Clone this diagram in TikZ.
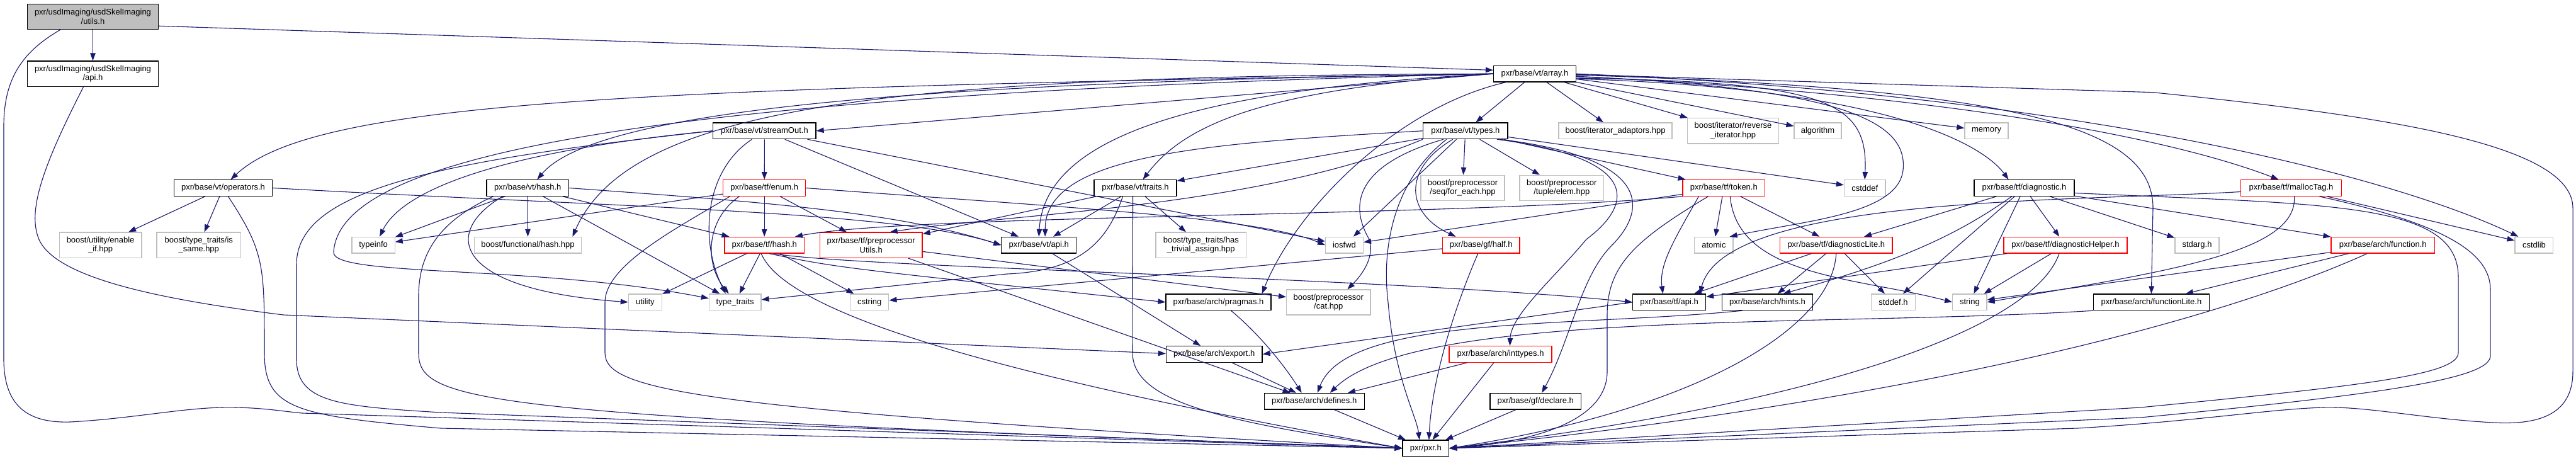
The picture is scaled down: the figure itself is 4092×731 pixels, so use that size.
\documentclass[tikz,border=0pt]{standalone}
\usepackage{fontspec}
\setmainfont{Liberation Sans}
\usetikzlibrary{arrows.meta}
\definecolor{edgeblue}{HTML}{191970}
\definecolor{extgray}{HTML}{BFBFBF}
\definecolor{trunc}{HTML}{FF0000}
\definecolor{curgray}{HTML}{BFBFBF}
\begin{document}
\begin{tikzpicture}[x=1pt,y=-1pt,
  nb/.style={rectangle, inner sep=0pt, align=center, font=\fontsize{13pt}{14.5pt}\selectfont, line width=1.2pt, fill=white},
  doc/.style={nb, draw=black},
  ext/.style={nb, draw=extgray},
  trn/.style={nb, draw=trunc},
  cur/.style={nb, draw=black, fill=curgray},
  bx/.style 2 args={minimum width=#1pt, minimum height=#2pt},
  e/.style={draw=edgeblue, line width=1.1pt, -{Triangle[length=12pt,width=8.5pt]}}]
\fill[white] (0,0) rectangle (4092,731);
\useasboundingbox (0,0) rectangle (4092,731);
% ---------- nodes ----------
\node[cur, bx={208.5}{40.4}] (utils) at (147.5,26.5) {pxr/usdImaging/usdSkelImaging\\/utils.h};
\node[doc, bx={208.5}{40.4}] (skelapi) at (147.5,117.2) {pxr/usdImaging/usdSkelImaging\\/api.h};
\node[doc, bx={130.8}{25.7}] (array) at (2438,117.2) {pxr/base/vt/array.h};
% row C
\node[doc, bx={163.3}{25.7}] (streamOut) at (1214.4,207.8) {pxr/base/vt/streamOut.h};
\node[doc, bx={134.5}{25.7}] (types) at (2327.8,207.8) {pxr/base/vt/types.h};
\node[ext, bx={180}{25.7}] (iteradapt) at (2566,207.8) {boost/iterator\_adaptors.hpp};
\node[ext, bx={144.8}{40.3}] (reviter) at (2753,207.8) {boost/iterator/reverse\\\_iterator.hpp};
\node[ext, bx={75}{25.7}] (algorithm) at (2887.5,207.8) {algorithm};
\node[ext, bx={69}{25.7}] (memory) at (3155.5,207.8) {memory};
% row D
\node[doc, bx={156.3}{25.7}] (operators) at (354.5,298.5) {pxr/base/vt/operators.h};
\node[doc, bx={130.8}{25.7}] (vthash) at (838.3,298.5) {pxr/base/vt/hash.h};
\node[trn, bx={130.7}{25.7}] (enum) at (1214.2,298.5) {pxr/base/tf/enum.h};
\node[doc, bx={131}{25.7}] (traits) at (1803.5,298.5) {pxr/base/vt/traits.h};
\node[ext, bx={133}{40}] (foreach) at (2323.5,298.3) {boost/preprocessor\\/seq/for\_each.hpp};
\node[ext, bx={133.6}{40}] (elem) at (2480.8,298.3) {boost/preprocessor\\/tuple/elem.hpp};
\node[trn, bx={130.5}{25.7}] (token) at (2738.3,298.5) {pxr/base/tf/token.h};
\node[ext, bx={65.6}{25.7}] (cstddef) at (2962.2,298.5) {cstddef};
\node[doc, bx={159}{25.7}] (diagnostic) at (3215.5,298.5) {pxr/base/tf/diagnostic.h};
\node[trn, bx={160.2}{25.7}] (mallocTag) at (3639.5,298.5) {pxr/base/tf/mallocTag.h};
% row E
\node[ext, bx={130.8}{40.3}] (enableif) at (159.6,389.2) {boost/utility/enable\\\_if.hpp};
\node[ext, bx={133.6}{40.3}] (issame) at (315.8,389.2) {boost/type\_traits/is\\\_same.hpp};
\node[ext, bx={68.2}{25.7}] (typeinfo) at (593.1,389.2) {typeinfo};
\node[ext, bx={170.6}{25.7}] (funchash) at (838.5,389.2) {boost/functional/hash.hpp};
\node[trn, bx={126.3}{25.7}] (tfhash) at (1214.2,389.2) {pxr/base/tf/hash.h};
\node[trn, bx={162.7}{40.3}] (prepUtils) at (1383.7,389.2) {pxr/base/tf/preprocessor\\Utils.h};
\node[doc, bx={118.7}{25.7}] (vtapi) at (1650.2,389.2) {pxr/base/vt/api.h};
\node[ext, bx={143.6}{40.3}] (hastrivial) at (1907.8,389.2) {boost/type\_traits/has\\\_trivial\_assign.hpp};
\node[ext, bx={59.8}{25.7}] (iosfwd) at (2135.5,389.2) {iosfwd};
\node[trn, bx={122.7}{25.7}] (half) at (2352.7,389.2) {pxr/base/gf/half.h};
\node[ext, bx={61.2}{25.7}] (atomic) at (2722.4,389.2) {atomic};
\node[trn, bx={178.4}{25.7}] (diagLite) at (2916.8,389.2) {pxr/base/tf/diagnosticLite.h};
\node[ext, bx={70}{25.7}] (stdarg) at (3490,389.2) {stdarg.h};
\node[trn, bx={196}{25.7}] (diagHelper) at (3281,389.2) {pxr/base/tf/diagnosticHelper.h};
\node[trn, bx={164.4}{25.7}] (function) at (3785.2,389.2) {pxr/base/arch/function.h};
\node[ext, bx={60.8}{25.7}] (cstdlib) at (4025.4,389.2) {cstdlib};
% row F
\node[ext, bx={53.1}{25.7}] (utility) at (1024.9,479.8) {utility};
\node[ext, bx={82.6}{25.7}] (typetraits) at (1167.7,479.8) {type\_traits};
\node[ext, bx={61.3}{25.7}] (cstring) at (1381.2,479.8) {cstring};
\node[doc, bx={167}{25.7}] (pragmas) at (1935.5,479.8) {pxr/base/arch/pragmas.h};
\node[ext, bx={133.4}{40}] (cat) at (2110.3,480) {boost/preprocessor\\/cat.hpp};
\node[doc, bx={116}{25.7}] (tfapi) at (2651.6,479.8) {pxr/base/tf/api.h};
\node[doc, bx={143.8}{25.7}] (hints) at (2807.5,479.8) {pxr/base/arch/hints.h};
\node[ext, bx={69.6}{25.7}] (stddef) at (3007.5,479.8) {stddef.h};
\node[ext, bx={54.3}{25.7}] (string) at (3128.9,479.8) {string};
\node[doc, bx={184}{25.7}] (functionLite) at (3417.4,479.8) {pxr/base/arch/functionLite.h};
% rows G, H, I
\node[doc, bx={152.6}{25.7}] (export) at (1928.7,562.5) {pxr/base/arch/export.h};
\node[trn, bx={163}{25.7}] (inttypes) at (2383.5,562.5) {pxr/base/arch/inttypes.h};
\node[doc, bx={159}{25.7}] (defines) at (2087.7,637.2) {pxr/base/arch/defines.h};
\node[doc, bx={144.4}{25.7}] (declare) at (2439.2,637.2) {pxr/base/gf/declare.h};
\node[doc, bx={73.6}{25.7}] (pxr) at (2264.8,711.8) {pxr/pxr.h};
% ---------- edges ----------
% utils
\draw[e] (utils) -- (skelapi);
\draw[e] (utils.-8) -- (array.175);
\draw[e] ([xshift=53pt]utils.south west) .. controls (40,80) and (6,120) .. (6,200) -- (6,570) .. controls (6,650) and (50,672) .. (112,670) .. controls (220,664) and (300,645) .. (375,647) .. controls (420,648) and (440,652) .. (480,656) -- (pxr.west);
% skelapi
\draw[e] ([xshift=-15pt]skelapi.south) .. controls (70,260) and (45,330) .. (60,375) .. controls (80,440) and (250,475) .. (450,500) -- ([yshift=1pt]export.west);
% array
\draw[e] (array) -- (types);
\draw[e] (array) -- (iteradapt);
\draw[e] (array) -- (reviter);
\draw[e] (array) -- (algorithm);
\draw[e] (array) -- (memory);
\draw[e] (array.west) -- (streamOut.east);
\draw[e] (array.west) .. controls (1000,140) and (500,160) .. ([xshift=12pt]operators.north);
\draw[e] (array.west) .. controls (1500,130) and (950,170) .. ([xshift=15pt]vthash.north);
\draw[e] (array.west) .. controls (1400,120) and (1000,170) .. ([xshift=-15pt]funchash.north east);
\draw[e] (array.west) .. controls (1000,150) and (540,250) .. (530,400) .. controls (525,440) and (850,420) .. ([yshift=6pt]typetraits.west);
\draw[e] (array.west) .. controls (1900,142) and (1660,216) .. (vtapi.north);
\draw[e] (array.west) .. controls (2000,142) and (1880,200) .. ([xshift=12pt]traits.north);
\draw[e] ([xshift=20pt]array.south west) .. controls (2220,170) and (2060,330) .. ([xshift=-15pt]pragmas.north east);
\draw[e] (array.-6) .. controls (2900,130) and (2968,160) .. (cstddef.north);
\draw[e] (array.-4) .. controls (2950,140) and (3030,200) .. (3023,270) .. controls (3015,340) and (2870,350) .. ([xshift=-6pt]atomic.north east);
\draw[e] ([yshift=-8pt]array.east) .. controls (3000,140) and (3150,230) .. ([xshift=-25pt]diagnostic.north);
\draw[e] ([yshift=-4pt]array.east) .. controls (3100,150) and (3450,220) .. ([xshift=-20pt]mallocTag.north);
\draw[e] (array.east) .. controls (3300,150) and (3800,280) .. ([xshift=6pt]cstdlib.north west);
\draw[e] ([yshift=-2pt]array.east) .. controls (3200,140) and (3420,200) .. (3420,330) -- (functionLite.north);
\draw[e] ([yshift=-1pt]array.east) -- (3420,146.7) .. controls (3800,185) and (4086,230) .. (4087,330) -- (4087,590) .. controls (4087,660) and (4030,675) .. (3960,671) .. controls (3850,665) and (3760,645) .. (3690,647) .. controls (3600,650) and (3500,668) .. (3300,680) -- (pxr.east);
% operators
\draw[e] (operators) -- (enableif);
\draw[e] (operators) -- (issame);
\draw[e] (operators.east) .. controls (1000,330) and (1420,335) .. (vtapi.west);
\draw[e] ([xshift=8pt]operators.south) .. controls (420,400) and (420,420) .. (420,560) .. controls (420,650) and (470,660) .. (700,680) -- (pxr.west);
% streamOut
\draw[e] (streamOut) -- (enum);
\draw[e] (streamOut.west) .. controls (800,240) and (640,300) .. ([xshift=10pt]typeinfo.north);
\draw[e] (streamOut) -- (vtapi);
\draw[e] (streamOut) -- (iosfwd);
\draw[e] ([xshift=-20pt]streamOut.south) .. controls (1120,270) and (1110,380) .. ([xshift=-15pt]typetraits.north);
\draw[e] (streamOut.west) .. controls (700,255) and (471,300) .. (471,420) -- (471,570) .. controls (471,640) and (540,645) .. (700,655) -- (pxr.west);
% vt/hash
\draw[e] (vthash) -- (funchash);
\draw[e] (vthash) -- (tfhash);
\draw[e] (vthash) -- (typeinfo);
\draw[e] (vthash) -- (typetraits);
\draw[e] (vthash.east) .. controls (1200,320) and (1420,335) .. (vtapi.west);
\draw[e] ([xshift=-40pt]vthash.south) .. controls (700,370) and (720,460) .. (utility.west);
\draw[e] ([xshift=-55pt]vthash.south) .. controls (700,350) and (665,400) .. (665,470) -- (665,560) .. controls (665,640) and (760,660) .. (pxr.west);
% tf/enum
\draw[e] (enum) -- (tfhash);
\draw[e] (enum) -- (prepUtils);
\draw[e] (enum) -- (typeinfo);
\draw[e] ([xshift=-40pt]enum.south) .. controls (1120,350) and (1120,420) .. ([xshift=-10pt]typetraits.north);
\draw[e] (enum.east) .. controls (1700,330) and (2000,345) .. (iosfwd.west);
\draw[e] ([xshift=-55pt]enum.south) .. controls (1080,360) and (961,420) .. (961,480) -- (961,560) .. controls (961,620) and (1100,650) .. (pxr.west);
% tf/hash
\draw[e] (tfhash) -- (utility);
\draw[e] (tfhash) -- (typetraits);
\draw[e] (tfhash) -- (cstring);
\draw[e] (tfhash.-60) .. controls (1330,425) .. (pragmas.west);
\draw[e] (tfhash.-40) .. controls (1350,425) and (2200,440) .. (tfapi.west);
\draw[e] ([xshift=-5pt]tfhash.south) .. controls (1250,500) and (1600,600) .. (pxr.west);
% preprocessorUtils
\draw[e] (prepUtils) -- (cat);
\draw[e] (prepUtils) -- (defines);
% vt/types
\draw[e] (types) -- (foreach);
\draw[e] (types) -- (elem);
\draw[e] (types) -- (token);
\draw[e] (types) -- (cstddef);
\draw[e] (types) -- (traits);
\draw[e] (types) -- (iosfwd);
\draw[e] (types.west) .. controls +(-350,20) and +(0,-130) .. ([xshift=10pt]vtapi.north);
\draw[e] (types.south west) .. controls (2000,330) and (1600,340) .. ([xshift=30pt]prepUtils.north);
\draw[e] ([xshift=-30pt]types.south) .. controls (2210,290) and (2195,400) .. (2205,480) .. controls (2215,600) and (2250,660) .. ([xshift=-10pt]pxr.north);
\draw[e] ([xshift=-20pt]types.south) .. controls (2225,270) and (2235,340) .. ([xshift=-40pt]half.north);
\draw[e] ([xshift=-35pt]types.south) .. controls (2160,260) and (2140,320) .. (2175,380) .. controls (2185,410) and (2160,440) .. ([xshift=30pt]cat.north);
\draw[e] ([xshift=50pt]types.south) .. controls (2600,250) and (2600,320) .. (2520,380) .. controls (2470,440) and (2400,500) .. ([xshift=15pt]inttypes.north);
\draw[e] ([xshift=55pt]types.south) .. controls (2620,250) and (2620,330) .. (2560,390) .. controls (2510,440) and (2495,540) .. ([xshift=10pt]declare.north);
% vt/traits
\draw[e] (traits) -- (vtapi);
\draw[e] (traits) -- (prepUtils);
\draw[e] (traits) -- (hastrivial);
\draw[e] ([xshift=-20pt]traits.south) .. controls (1760,380) and (1720,430) .. (1600,435) -- ([yshift=4pt]typetraits.east);
\draw[e] ([xshift=-4pt]traits.south) -- (1799,560) .. controls (1799,640) and (1950,670) .. (pxr.west);
% arch chain
\draw[e] (vtapi) -- (export);
\draw[e] (export) -- (defines);
\draw[e] ([xshift=20pt]pragmas.south) .. controls (2000,530) and (2040,580) .. ([xshift=-20pt]defines.north);
\draw[e] (defines) -- (pxr);
\draw[e] (inttypes) -- (defines);
\draw[e] (inttypes) -- (pxr);
\draw[e] (declare) -- (pxr);
\draw[e] (tfapi.west) -- (export.east);
\draw[e] (half) -- (cstring);
\draw[e] ([xshift=-5pt]half.south) .. controls (2310,490) and (2275,600) .. ([xshift=5pt]pxr.north);
\draw[e] ([xshift=-40pt]hints.south) .. controls (2500,520) and (2140,500) .. ([xshift=5pt]defines.north);
\draw[e] (functionLite.south west) .. controls (2900,520) and (2250,490) .. ([xshift=25pt]defines.north);
% tf/token
\draw[e] (token) -- (diagLite);
\draw[e] (token) -- (atomic);
\draw[e] (token) -- (iosfwd);
\draw[e] ([xshift=-40pt]token.south) .. controls (2660,380) and (2635,420) .. ([xshift=-10pt]tfapi.north);
\draw[e] (token.south west) .. controls (2300,345) and (1450,340) .. ([xshift=-15pt]tfhash.north east);
\draw[e] ([xshift=10pt]token.south) .. controls (2760,440) and (2950,440) .. (string.west);
\draw[e] ([xshift=-25pt]token.south) .. controls (2600,380) and (2553,420) .. (2553,500) -- (2553,590) .. controls (2553,680) and (2400,705) .. (pxr.east);
% diagnosticLite
\draw[e] (diagLite) -- (tfapi);
\draw[e] (diagLite) -- (hints);
\draw[e] (diagLite) -- (stddef);
\draw[e] (diagLite.south) .. controls (2910,520) and (2700,650) .. (pxr.east);
% diagnosticHelper
\draw[e] (diagHelper) -- (tfapi);
\draw[e] (diagHelper) -- (string);
\draw[e] ([xshift=-10pt]diagHelper.south) .. controls (3230,520) and (2900,640) .. (pxr.east);
% diagnostic
\draw[e] (diagnostic) -- (diagLite);
\draw[e] (diagnostic) -- (diagHelper);
\draw[e] ([xshift=-20pt]diagnostic.south) .. controls (3100,380) and (3000,420) .. ([xshift=25pt]hints.north);
\draw[e] (diagnostic) -- (stddef);
\draw[e] (diagnostic) -- (string);
\draw[e] (diagnostic) -- (stdarg);
\draw[e] (diagnostic) -- (function);
\draw[e] ([yshift=-8pt]diagnostic.east) .. controls (3700,325) and (3905,320) .. (3905,440) -- (3905,560) .. controls (3905,595) and (3760,612) .. (3400,647) -- (pxr.east);
% mallocTag
\draw[e] (mallocTag) -- (cstdlib);
\draw[e] ([yshift=-6pt]mallocTag.west) .. controls (3300,320) and (2740,310) .. ([xshift=-10pt]tfapi.north east);
\draw[e] ([xshift=5pt]mallocTag.south) .. controls (3650,400) and (3450,430) .. (string.east);
\draw[e] ([xshift=45pt]mallocTag.south) .. controls (3880,355) and (3956,400) .. (3956,460) -- (3956,565) .. controls (3956,600) and (3800,625) .. (3400,663) -- (pxr.east);
% arch/function
\draw[e] (function) -- (functionLite);
\draw[e] (function) -- (string);
\draw[e] ([xshift=-25pt]function.south) .. controls (3500,520) and (3000,640) .. (pxr.east);
\end{tikzpicture}
\end{document}
